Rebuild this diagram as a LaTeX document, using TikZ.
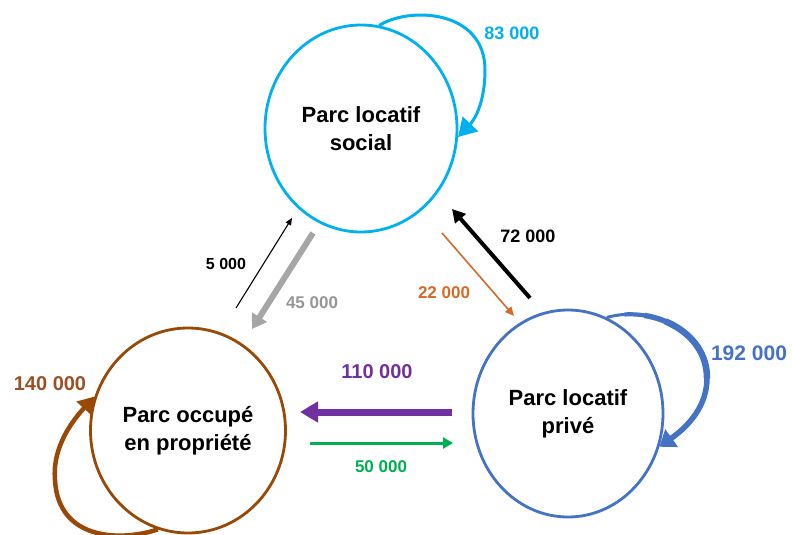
\documentclass[tikz,border=0pt]{standalone}
\usepackage{fontspec}
\setmainfont{Liberation Sans}
\usetikzlibrary{arrows.meta,shapes.geometric}
\definecolor{cyanC}{HTML}{00B0F0}
\definecolor{brownC}{HTML}{984807}
\definecolor{brownT}{HTML}{9A5224}
\definecolor{blueC}{HTML}{4472C4}
\definecolor{orangeC}{HTML}{D46B28}
\definecolor{grayA}{HTML}{A6A6A6}
\definecolor{grayT}{HTML}{969696}
\definecolor{purpleC}{HTML}{7030A0}
\definecolor{greenC}{HTML}{00B050}
\tikzset{
  bub/.style={ellipse, draw, line width=2.8pt, inner sep=0pt, align=center,
    font=\bfseries\fontsize{22}{28}\selectfont, text=black},
  lab/.style={font=\bfseries\fontsize{#1}{#1}\selectfont, inner sep=0pt},
  flow/.style={line cap=butt},
  taper/.style={dash pattern={on 400pt off #1}, dash phase=400pt},
}
\begin{document}
\begin{tikzpicture}[x=1pt,y=-1pt]
\useasboundingbox (0,0) rectangle (792,535);
\fill[white] (0,0) rectangle (792,535);
\clip (0,0) rectangle (792,535);

% circles
\node[bub, cyanC, minimum width=192, minimum height=207] (soc) at (361,128.5) {\color{black}Parc locatif\\\color{black}social};
\node[bub, brownC, minimum width=195, minimum height=205] (occ) at (188,430.5) {\color{black}Parc occupé\\\color{black}en propriété};
\node[bub, blueC, minimum width=190, minimum height=207] (pri) at (568,413.5) {\color{black}Parc locatif\\\color{black}privé};

% self loops
\draw[cyanC, line width=3pt, -{Triangle[length=18pt,width=21pt]}]
  (soc.80) .. controls (410,6) and (485,10) .. (485,70)
  .. controls (485,100) and (476,118) .. (soc.-5);
\foreach \w/\g in {3pt/0pt, 4.2pt/18pt, 5.4pt/38pt, 6.5pt/60pt}
  \draw[blueC, line width=\w, taper=\g]
    (pri.68) .. controls (650,305) and (707,330) .. (707,378);
\draw[blueC, line width=5.5pt, -{Triangle[length=15pt,width=21pt]}]
  (707,378) .. controls (707,405) and (690,425) .. (pri.-20);
\draw[brownC, line width=4.5pt, -{Triangle[length=16pt,width=19pt]}]
  (occ.-107) .. controls (120,542) and (58,540) .. (55,480)
  .. controls (52,445) and (75,418) .. (occ.160);

% free ends of straight flows
\coordinate (f5a) at (236,308);  \coordinate (f5b) at (292,218);
\coordinate (f45a) at (313,233); \coordinate (f45b) at (252,329);
\coordinate (f22a) at (442,233); \coordinate (f22b) at (514,316);
\coordinate (f72a) at (530,298); \coordinate (f72b) at (452,209);
\coordinate (f110a) at (452,412); \coordinate (f110b) at (300,412);
\coordinate (f50a) at (310,443); \coordinate (f50b) at (453,443);

\draw[flow, black, line width=1.1pt, -{Triangle[length=7pt,width=6pt]}] (f5a) -- (f5b);
\draw[flow, grayA, line width=6pt, -{Triangle[length=14pt,width=17pt]}] (f45a) -- (f45b);
\draw[flow, orangeC, line width=1.6pt, -{Triangle[length=9pt,width=8pt]}] (f22a) -- (f22b);
\draw[flow, black, line width=4pt, -{Triangle[length=13pt,width=14pt]}] (f72a) -- (f72b);
\draw[flow, purpleC, line width=7pt, -{Triangle[length=18pt,width=20pt]}] (f110a) -- (f110b);
\draw[flow, greenC, line width=3pt, -{Triangle[length=10pt,width=11pt]}] (f50a) -- (f50b);

% labels
\node[lab=18, text=cyanC] (l83) at (512,33) {83 000};
\node[lab=16, text=black] (l5) at (226,264) {5 000};
\node[lab=17, text=grayT] (l45) at (312,303) {45 000};
\node[lab=17, text=orangeC] (l22) at (444,293) {22 000};
\node[lab=18, text=black] (l72) at (528,236) {72 000};
\node[lab=20, text=purpleC] (l110) at (377,372) {110 000};
\node[lab=17, text=greenC] (l50) at (381,467) {50 000};
\node[lab=20, text=brownT] (l140) at (50,384) {140 000};
\node[lab=21, text=blueC] (l192) at (749,353) {192 000};
\end{tikzpicture}
\end{document}
